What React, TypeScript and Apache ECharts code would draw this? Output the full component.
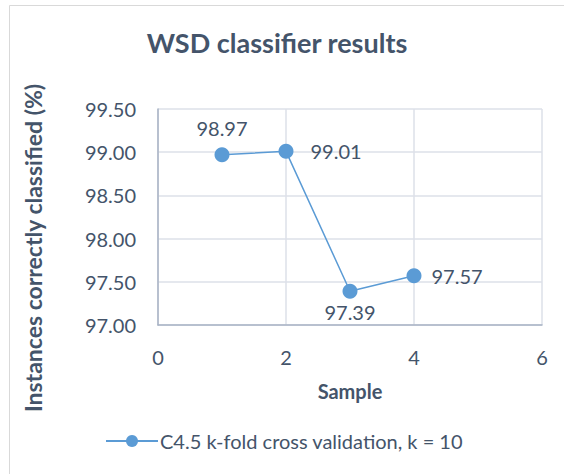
import React, { useEffect, useRef } from "react";
import * as echarts from "echarts";

const sampleX = [1, 2, 3, 4];
const accuracy = [98.97, 99.01, 97.39, 97.57];
const labelPositions = ["top", "right", "bottom", "right"];
const labelDistances = [9, 17, 3, 10];
const seriesName = "C4.5 k-fold cross validation, k = 10";
const yAxisTitle = "Instances correctly classified (%)";

const FONT = "Lato, 'Open Sans', sans-serif";
const TEXT = "#44546a";

export default function App() {
  const ref = useRef<HTMLDivElement>(null);
  useEffect(() => {
    if (!ref.current) return;
    const chart = echarts.init(ref.current, undefined, { renderer: "svg" });
    const data = sampleX.map((x, i) => ({
      value: [x, accuracy[i]],
      label: { position: labelPositions[i] as any, distance: labelDistances[i] },
    }));
    chart.setOption({
      animation: false,
      backgroundColor: "#ffffff",
      textStyle: { fontFamily: FONT },
      graphic: [
        {
          type: "rect",
          shape: { x: 9.5, y: 5.5, width: 700, height: 700 },
          style: { fill: "none", stroke: "#d9d9d9", lineWidth: 1 },
          silent: true,
        },
        {
          type: "text",
          x: 33,
          y: 248,
          rotation: Math.PI / 2,
          style: {
            text: yAxisTitle,
            fontFamily: FONT,
            fontWeight: "bold",
            fontSize: 23,
            fill: TEXT,
            textAlign: "center",
            textVerticalAlign: "middle",
          },
          silent: true,
        },
      ],
      title: {
        text: "WSD classifier results",
        left: 272,
        textAlign: "center",
        top: 24,
        textStyle: { fontFamily: FONT, fontWeight: "bold", fontSize: 27, color: TEXT },
      },
      grid: { left: 158, right: 22, top: 109, bottom: 149, containLabel: false },
      xAxis: {
        type: "value",
        min: 0,
        max: 6,
        interval: 2,
        name: "Sample",
        nameLocation: "middle",
        nameGap: 56,
        nameTextStyle: { fontFamily: FONT, fontWeight: "bold", fontSize: 20, color: TEXT },
        axisLine: { show: true, lineStyle: { color: "#a8b3c5", width: 1.5 } },
        axisTick: { show: false },
        axisLabel: { margin: 22, fontSize: 20, color: TEXT, fontFamily: FONT },
        splitLine: { show: true, lineStyle: { color: "#dde1e8", width: 1.5 } },
      },
      yAxis: {
        type: "value",
        min: 97,
        max: 99.5,
        interval: 0.5,
        axisLine: { show: true, lineStyle: { color: "#a8b3c5", width: 1.5 } },
        axisTick: { show: false },
        axisLabel: {
          margin: 22,
          fontSize: 20,
          color: TEXT,
          fontFamily: FONT,
          formatter: (v: number) => v.toFixed(2),
        },
        splitLine: { show: true, lineStyle: { color: "#dde1e8", width: 1.5 } },
      },
      legend: {
        left: 100,
        top: 426,
        itemWidth: 52,
        itemHeight: 15,
        itemGap: 10,
        textStyle: { fontFamily: FONT, fontSize: 20, color: TEXT, padding: [0, 0, 0, -3] },
        data: [seriesName],
      },
      series: [
        {
          type: "line",
          name: seriesName,
          data,
          symbol: "circle",
          symbolSize: 15,
          lineStyle: { color: "#5b9bd5", width: 1.5 },
          itemStyle: { color: "#5b9bd5" },
          label: {
            show: true,
            fontFamily: FONT,
            fontSize: 20,
            color: TEXT,
            formatter: (p: any) => p.value[1].toFixed(2),
          },
        },
      ],
    });
    return () => chart.dispose();
  }, []);
  return (
    <div
      ref={ref}
      style={{ position: "fixed", left: 0, top: 0, width: 564, height: 474 }}
    />
  );
}
